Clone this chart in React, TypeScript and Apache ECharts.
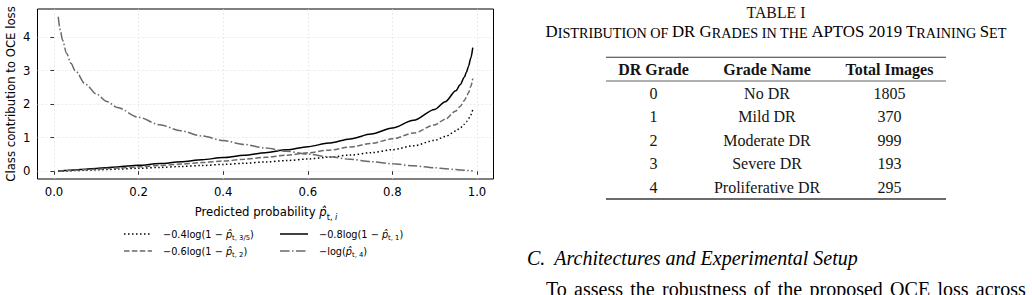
import React, { useEffect, useRef } from "react";
import * as echarts from "echarts";

// Predicted probability samples (x) and the four per-class loss terms
const probs = [0.01, 0.015, 0.02, 0.03, 0.04, 0.05, 0.075, 0.1, 0.125, 0.15, 0.2, 0.25, 0.3, 0.35, 0.4, 0.45, 0.5, 0.55, 0.6, 0.65, 0.7, 0.75, 0.8, 0.85, 0.9, 0.925, 0.95, 0.96, 0.97, 0.975, 0.98, 0.985, 0.99];
const lossNeighbour = [0.004, 0.006, 0.008, 0.012, 0.016, 0.021, 0.031, 0.042, 0.053, 0.065, 0.089, 0.115, 0.143, 0.172, 0.204, 0.239, 0.277, 0.319, 0.367, 0.42, 0.482, 0.555, 0.644, 0.759, 0.921, 1.036, 1.198, 1.288, 1.403, 1.476, 1.565, 1.68, 1.842];
const lossFar = [0.008, 0.012, 0.016, 0.024, 0.033, 0.041, 0.062, 0.084, 0.107, 0.13, 0.178, 0.23, 0.285, 0.345, 0.409, 0.478, 0.555, 0.639, 0.733, 0.84, 0.963, 1.109, 1.288, 1.518, 1.842, 2.072, 2.397, 2.575, 2.805, 2.951, 3.13, 3.36, 3.684];
const lossMid = [0.006, 0.009, 0.012, 0.018, 0.024, 0.031, 0.047, 0.063, 0.08, 0.098, 0.134, 0.173, 0.214, 0.258, 0.306, 0.359, 0.416, 0.479, 0.55, 0.63, 0.722, 0.832, 0.966, 1.138, 1.382, 1.554, 1.797, 1.931, 2.104, 2.213, 2.347, 2.52, 2.763];
const lossTrue = [4.605, 4.2, 3.912, 3.507, 3.219, 2.996, 2.59, 2.303, 2.079, 1.897, 1.609, 1.386, 1.204, 1.05, 0.916, 0.799, 0.693, 0.598, 0.511, 0.431, 0.357, 0.288, 0.223, 0.163, 0.105, 0.078, 0.051, 0.041, 0.03, 0.025, 0.02, 0.015, 0.01];

const xTicks = [0, 0.2, 0.4, 0.6, 0.8, 1.0];
const yTicks = [0, 1, 2, 3, 4];

// Table I contents
const tableHeaders = ["DR Grade", "Grade Name", "Total Images"];
const gradeIds = ["0", "1", "2", "3", "4"];
const gradeNames = ["No DR", "Mild DR", "Moderate DR", "Severe DR", "Proliferative DR"];
const totalImages = [1805, 370, 999, 193, 295];

const bodyWords = ["To", "assess", "the", "robustness", "of", "the", "proposed", "OCE", "loss", "across"];

const SANS = "DejaVu Sans";
const SERIF = "Liberation Serif";
const GREY = "#6a6a6a";
const INK = "#141414";

const mathRich = {
  n: { fontFamily: SANS, fontSize: 9.75, color: "#000", lineHeight: 14, verticalAlign: "middle" },
  p: { fontFamily: SANS, fontSize: 9.75, fontStyle: "italic", color: "#000", lineHeight: 14, verticalAlign: "middle" },
  s: { fontFamily: SANS, fontSize: 6.8, color: "#000", lineHeight: 8, verticalAlign: "bottom" },
  si: { fontFamily: SANS, fontSize: 6.8, fontStyle: "italic", color: "#000", lineHeight: 8, verticalAlign: "bottom" },
};

const xNameRich = {
  n: { ...mathRich.n, fontSize: 11.7, lineHeight: 17 },
  p: { ...mathRich.p, fontSize: 11.7, lineHeight: 17 },
  s: { ...mathRich.s, fontSize: 8.2, lineHeight: 10 },
  si: { ...mathRich.si, fontSize: 8.2, lineHeight: 10 },
};

const legendItems = [
  { text: "{n|\u22120.4log(1 \u2212 }{p|p\u0302}{s|t, 3/5}{n|)}", color: "#000", dash: [1.5, 2.5], x: 124, y: 234 },
  { text: "{n|\u22120.8log(1 \u2212 }{p|p\u0302}{s|t, 1}{n|)}", color: "#000", dash: null, x: 280, y: 234 },
  { text: "{n|\u22120.6log(1 \u2212 }{p|p\u0302}{s|t, 2}{n|)}", color: GREY, dash: [5.5, 2.4], x: 124, y: 251 },
  { text: "{n|\u2212log(}{p|p\u0302}{s|t, 4}{n|)}", color: GREY, dash: [9.6, 2.4, 1.5, 2.4], x: 280, y: 251 },
];

const colX = [653.5, 767, 889.5];
const rowY = [93, 116.5, 140, 163.5, 187];

function buildGraphics() {
  const g: any[] = [];
  // axis titles
  g.push({
    type: "text",
    x: 10.5,
    y: 94,
    rotation: Math.PI / 2,
    style: { text: "Class contribution to OCE loss", fontFamily: SANS, fontSize: 11.7, fill: "#000", align: "center", verticalAlign: "middle" },
  });
  g.push({
    type: "text",
    x: 266,
    y: 212,
    style: {
      text: "{n|Predicted probability }{p|p\u0302}{s|t, }{si|i}",
      rich: xNameRich,
      align: "center",
      verticalAlign: "middle",
    },
  });
  // legend
  legendItems.forEach((it) => {
    g.push({
      type: "line",
      shape: { x1: it.x, y1: it.y, x2: it.x + 28, y2: it.y },
      style: { stroke: it.color, lineWidth: 1.5, lineDash: it.dash || undefined, lineCap: "butt" },
    });
    g.push({
      type: "text",
      x: it.x + 39,
      y: it.y,
      style: { text: it.text, rich: mathRich, align: "left", verticalAlign: "middle" },
    });
  });
  // table caption
  g.push({
    type: "text",
    x: 776,
    y: 12.7,
    style: { text: "TABLE I", fontFamily: SERIF, fontSize: 15.8, fill: INK, align: "center", verticalAlign: "middle" },
  });
  g.push({
    type: "text",
    x: 776,
    y: 31.7,
    style: {
      text: "{b|D}{s|ISTRIBUTION OF }{b|DR G}{s|RADES IN THE }{b|APTOS 2019 T}{s|RAINING }{b|S}{s|ET}",
      rich: {
        b: { fontFamily: SERIF, fontSize: 16.8, color: INK, lineHeight: 16.8, verticalAlign: "bottom" },
        s: { fontFamily: SERIF, fontSize: 14.2, color: INK, lineHeight: 14.2, verticalAlign: "bottom" },
      },
      align: "center",
      verticalAlign: "middle",
    },
  });
  // table rules
  const rules = [
    { y: 57.3, w: 1.1 },
    { y: 81, w: 0.8 },
    { y: 199, w: 1.3 },
  ];
  rules.forEach((r) =>
    g.push({ type: "line", shape: { x1: 606, y1: r.y, x2: 946, y2: r.y }, style: { stroke: "#3a3a3a", lineWidth: r.w } })
  );
  tableHeaders.forEach((h, i) =>
    g.push({
      type: "text",
      x: colX[i],
      y: 69,
      style: { text: h, fontFamily: SERIF, fontSize: 16, fontWeight: "bold", fill: INK, align: "center", verticalAlign: "middle" },
    })
  );
  gradeIds.forEach((id, r) => {
    const cells = [id, gradeNames[r], String(totalImages[r])];
    cells.forEach((c, i) =>
      g.push({
        type: "text",
        x: colX[i],
        y: rowY[r],
        style: { text: c, fontFamily: SERIF, fontSize: 16, fill: INK, align: "center", verticalAlign: "middle" },
      })
    );
  });
  // section heading
  g.push({
    type: "text",
    x: 527,
    y: 257.7,
    style: {
      text: "{t|C.}{gap| }{t|Architectures and Experimental Setup}",
      rich: {
        t: { fontFamily: SERIF, fontSize: 20, fontStyle: "italic", color: INK },
        gap: { fontFamily: SERIF, fontSize: 20, width: 9 },
      },
      align: "left",
      verticalAlign: "middle",
    },
  });
  // first (justified) line of the paragraph, running past the bottom edge
  g.push({
    type: "text",
    x: 546,
    y: 288.5,
    style: {
      text: bodyWords.map((w) => `{t|${w}}`).join("{sp| }"),
      rich: {
        t: { fontFamily: SERIF, fontSize: 20, color: INK },
        sp: { fontFamily: SERIF, fontSize: 20, width: 7.3 },
      },
      align: "left",
      verticalAlign: "middle",
    },
  });
  return g;
}

function lineSeries(values: number[], color: string, type: any) {
  return {
    type: "line",
    data: probs.map((p, i) => [p, values[i]]),
    showSymbol: false,
    smooth: 0.3,
    smoothMonotone: "x",
    lineStyle: { color, width: 1.5, type, cap: "butt" },
    itemStyle: { color },
    emphasis: { disabled: true },
  };
}

export default function App() {
  const ref = useRef<HTMLDivElement>(null);
  useEffect(() => {
    if (!ref.current) return;
    const chart = echarts.init(ref.current, undefined, { renderer: "svg" });
    chart.setOption({
      animation: false,
      backgroundColor: "#fff",
      textStyle: { fontFamily: SANS },
      grid: { left: 37.5, top: 9, width: 456, height: 170, show: true, borderColor: "#000", borderWidth: 1, backgroundColor: "transparent" },
      xAxis: {
        type: "value",
        min: -0.039,
        max: 1.039,
        axisLine: { show: false },
        axisTick: { show: true, customValues: xTicks, length: 3.5, lineStyle: { color: "#000", width: 0.8 } },
        axisLabel: { customValues: xTicks, formatter: (v: number) => v.toFixed(1), fontFamily: SANS, fontSize: 11.7, color: "#000", margin: 7 },
        splitLine: { show: true, lineStyle: { color: "#e3e3e3", width: 0.7, type: [2, 2] } },
      },
      yAxis: {
        type: "value",
        min: -0.23,
        max: 4.835,
        axisLine: { show: false },
        axisTick: { show: true, customValues: yTicks, length: 3.5, lineStyle: { color: "#000", width: 0.8 } },
        axisLabel: { customValues: yTicks, formatter: (v: number) => String(v), fontFamily: SANS, fontSize: 11.7, color: "#000", margin: 7 },
        splitLine: { show: true, lineStyle: { color: "#e3e3e3", width: 0.7, type: [2, 2] } },
      },
      series: [
        lineSeries(lossNeighbour, "#000", [1.5, 2.5]),
        lineSeries(lossFar, "#000", "solid"),
        lineSeries(lossMid, GREY, [5.5, 2.4]),
        lineSeries(lossTrue, GREY, [9.6, 2.4, 1.5, 2.4]),
      ],
      graphic: buildGraphics(),
    });
    return () => chart.dispose();
  }, []);
  return <div ref={ref} style={{ position: "absolute", left: 0, top: 0, width: 1032, height: 295, background: "#fff" }} />;
}
